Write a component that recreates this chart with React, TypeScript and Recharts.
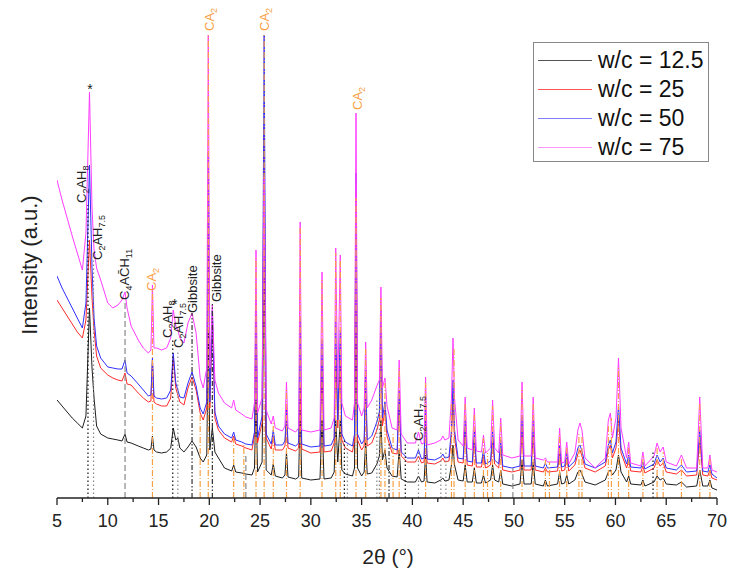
import { LineChart, Line, XAxis, YAxis, ReferenceLine, ReferenceDot } from 'recharts';

// 2θ grid shared by the four patterns
const twoTheta = [
  5, 5.5, 6, 6.5, 7, 7.5, 7.85, 8.2, 8.45, 8.65, 8.9, 9.3, 10,
  10.5, 11, 11.4, 11.7, 11.9, 12.3, 13, 13.5, 14, 14.25, 14.4, 14.55, 14.8, 15.3, 15.8,
  16.2, 16.45, 16.7, 16.9, 17.1, 17.5, 17.9, 18.3, 18.7, 19.1, 19.4, 19.75, 19.9, 20.05, 20.3, 20.55, 20.9,
  21.5, 22.2, 22.4, 22.6, 23.2, 23.6, 24.2, 24.45, 24.6, 24.75, 25.2, 25.4, 25.6, 26.1, 26.3, 26.5,
  27.2, 27.45, 27.6, 27.75, 28.5, 28.8, 28.95, 29.1, 30, 30.9, 31.1, 31.3, 32, 32.3, 32.45, 32.65, 32.9, 33.05, 33.4,
  34.1, 34.3, 34.45, 34.6, 35, 35.25, 35.4, 35.55, 36, 36.5, 36.75, 36.9, 37.05, 37.3, 37.5, 38, 38.5, 38.7, 38.9,
  39.5, 40.3, 40.6, 40.9, 41.15, 41.3, 41.45, 42.2, 42.8, 43, 43.2, 43.6, 43.85, 44, 44.15, 44.5, 45, 45.2, 45.4,
  45.9, 46.1, 46.3, 46.8, 47, 47.2, 47.7, 47.9, 48.1, 48.5, 48.7, 48.9, 49.8, 50.6, 50.8, 51, 51.7, 51.9, 52.1,
  52.9, 53.1, 53.3, 54.3, 54.5, 54.7, 55, 55.2, 55.4, 56, 56.3, 56.5, 56.7, 57,
  58, 59, 59.3, 59.5, 59.7, 60.05, 60.3, 60.55, 61.1, 61.3, 61.5, 62.5, 62.7, 62.9,
  63.8, 64.1, 64.4, 64.7, 65, 66, 66.5, 67, 68, 68.3, 68.6, 69.1, 69.3, 69.5, 70,
];

const wc125 = [
  98, 92, 86, 80, 75, 70, 82, 190, 130, 100, 72, 64, 60,
  59, 58, 57, 64, 56, 55, 52, 50, 48, 49, 62, 48, 46, 45, 46,
  50, 70, 58, 60, 50, 46, 51, 57, 51, 40, 36, 43, 168, 48, 70, 46, 40,
  30, 27, 33, 26, 25, 24, 23, 30, 98, 26, 36, 251, 28, 23, 34, 22,
  20, 23, 46, 21, 19, 21, 88, 20, 18, 19, 78, 19, 20, 26, 78, 36, 78, 28, 24,
  22, 30, 200, 30, 22, 26, 58, 24, 25, 34, 42, 78, 38, 48, 30, 22, 21, 48, 19,
  16, 16, 22, 16, 17, 43, 16, 15, 18, 20, 17, 18, 33, 53, 33, 18, 17, 33, 16,
  16, 30, 15, 15, 23, 15, 18, 33, 18, 16, 28, 14, 12, 14, 38, 14, 14, 36, 14,
  12, 18, 12, 14, 26, 14, 15, 23, 14, 18, 26, 28, 24, 16,
  13, 18, 26, 28, 23, 28, 43, 26, 16, 22, 14, 13, 18, 12,
  16, 22, 18, 20, 14, 13, 16, 11, 12, 28, 12, 12, 18, 10, 8,
];

const wc25 = [
  198, 190, 182, 174, 166, 160, 178, 258, 200, 168, 142, 130, 123,
  120, 118, 117, 125, 114, 113, 105, 100, 96, 97, 138, 96, 94, 92, 92,
  100, 140, 110, 103, 96, 93, 110, 121, 108, 85, 78, 90, 280, 90, 180, 80, 68,
  60, 56, 62, 54, 52, 50, 48, 62, 178, 55, 75, 371, 60, 49, 62, 48,
  48, 52, 78, 50, 47, 50, 111, 49, 45, 46, 128, 46, 47, 55, 148, 70, 138, 58, 50,
  46, 58, 300, 58, 48, 52, 108, 52, 55, 68, 78, 168, 72, 88, 62, 45, 44, 98, 42,
  36, 36, 42, 35, 36, 78, 35, 34, 37, 40, 36, 37, 60, 103, 60, 36, 35, 68, 33,
  32, 58, 31, 31, 43, 30, 33, 58, 34, 30, 50, 28, 26, 28, 68, 28, 28, 63, 28,
  26, 30, 26, 27, 46, 27, 28, 40, 27, 33, 44, 48, 42, 30,
  26, 32, 48, 53, 40, 50, 78, 45, 30, 38, 27, 26, 32, 25,
  30, 38, 32, 35, 26, 24, 28, 22, 23, 58, 23, 22, 28, 20, 18,
];

const wc50 = [
  222, 210, 200, 190, 180, 170, 195, 333, 230, 180, 152, 140, 131,
  130, 129, 129, 138, 125, 122, 114, 108, 102, 103, 140, 102, 100, 99, 100,
  108, 145, 115, 108, 101, 100, 115, 126, 112, 90, 84, 96, 346, 96, 188, 86, 72,
  64, 60, 66, 58, 56, 54, 53, 66, 198, 60, 82, 463, 64, 54, 68, 53,
  53, 57, 88, 55, 52, 55, 181, 54, 51, 52, 158, 52, 53, 60, 176, 78, 168, 64, 56,
  52, 64, 325, 64, 54, 58, 128, 58, 62, 76, 86, 188, 80, 96, 68, 50, 48, 108, 46,
  40, 40, 48, 39, 40, 88, 39, 38, 41, 44, 40, 41, 68, 118, 68, 40, 39, 78, 37,
  36, 68, 35, 35, 48, 34, 37, 68, 38, 34, 58, 32, 30, 32, 83, 32, 32, 78, 32,
  30, 35, 30, 31, 53, 31, 32, 46, 31, 37, 50, 53, 47, 34,
  30, 36, 53, 58, 45, 56, 93, 50, 34, 43, 31, 30, 36, 29,
  34, 43, 36, 40, 30, 28, 33, 26, 27, 68, 27, 26, 33, 24, 20,
];

const wc75 = [
  318, 298, 280, 262, 245, 228, 265, 406, 290, 248, 230, 218, 195,
  190, 193, 198, 206, 190, 172, 158, 150, 145, 148, 213, 150, 150, 148, 150,
  160, 188, 172, 168, 160, 155, 175, 185, 165, 120, 110, 130, 463, 130, 193, 118, 105,
  95, 90, 98, 88, 84, 81, 79, 95, 248, 85, 100, 321, 88, 74, 82, 70,
  67, 72, 116, 70, 66, 70, 276, 68, 66, 68, 226, 68, 70, 80, 250, 110, 243, 95, 82,
  78, 95, 385, 95, 82, 90, 156, 90, 98, 112, 118, 211, 110, 120, 92, 70, 68, 138, 64,
  55, 55, 66, 54, 55, 121, 53, 55, 58, 62, 58, 60, 100, 160, 100, 58, 52, 101, 50,
  48, 90, 47, 46, 63, 45, 50, 98, 50, 45, 80, 43, 40, 42, 116, 42, 42, 101, 40,
  38, 40, 36, 36, 70, 35, 36, 56, 34, 45, 68, 75, 68, 40,
  30, 40, 78, 85, 60, 80, 140, 70, 40, 56, 35, 32, 46, 32,
  42, 55, 46, 51, 36, 32, 43, 30, 30, 101, 30, 30, 43, 28, 26,
];

const seriesNames = ['w/c = 12.5', 'w/c = 25', 'w/c = 50', 'w/c = 75'];
const seriesKeys = ['wc125', 'wc25', 'wc50', 'wc75'];
const seriesColors = ['#1e1e1e', '#ff2a2a', '#3030ff', '#ff3cff'];
const legendColors = ['#555555', '#ff5555', '#8080ff', '#ff99ff'];

const xTicks = [5, 7.5, 10, 12.5, 15, 17.5, 20, 22.5, 25, 27.5, 30, 32.5, 35, 37.5, 40, 42.5, 45, 47.5, 50, 52.5, 55, 57.5, 60, 62.5, 65, 67.5, 70];

// phase reference lines: position and how high they reach
const ca2Pos = [14.4, 19.1, 19.9, 22.4, 23.4, 24.6, 25.4, 26.3, 27.6, 28.95, 31.1, 32.45, 32.9, 34.45, 35.4, 36.9, 37.3, 38.1, 38.7, 41.3, 43.85, 44.1, 45.2, 46.1, 47, 47.4, 47.9, 48.7, 50.8, 51.9, 53.1, 53.5, 54.5, 55.2, 56.4, 56.7, 59.3, 59.6, 60.3, 61.3, 62.7, 64.1, 64.7, 66.5, 68.3, 69.3];
const ca2Top = [208, 85, 463, 60, 55, 240, 463, 75, 110, 270, 220, 245, 238, 300, 150, 200, 115, 65, 130, 115, 95, 150, 95, 85, 60, 45, 92, 75, 110, 95, 38, 36, 65, 52, 65, 62, 72, 80, 130, 52, 42, 50, 46, 40, 95, 40];
const c2ah8Pos = [8.05, 16.4, 33.3, 39.3, 63.7];
const c2ah8Top = [293, 160, 60, 56, 48];
const c2ah75Pos = [8.6, 16.9, 33.6, 36.5, 36.75, 40.6, 42.8, 43.3];
const c2ah75Top = [238, 148, 55, 100, 110, 55, 52, 52];
const c4achPos = [11.7, 23.6, 49.9];
const c4achTop = [198, 45, 30];
const gibbPos = [18.3, 20.3, 37.7];
const gibbTop = [185, 196, 55];

// annotations: [main, subscript] pieces
const labelParts: [string, string][][] = [
  [['C', '2'], ['AH', '8']],
  [['C', '2'], ['AH', '7.5']],
  [['C', '4'], ['AC\u0304H', '11']],
  [['CA', '2']],
  [['C', '2'], ['AH', '8']],
  [['C', '2'], ['AH', '7.5']],
  [['Gibbsite', '']],
  [['CA', '2']],
  [['Gibbsite', '']],
  [['CA', '2']],
  [['CA', '2']],
  [['C', '2'], ['AH', '7.5']],
];
const labelTheta = [7.46, 8.94, 11.6, 14.35, 15.93, 17.0, 18.3, 19.97, 20.66, 25.48, 34.55, 40.65];
const labelAt = [295, 238, 198, 207, 160, 150, 185, 467, 196, 467, 388, 57];
const labelOrange = [false, false, false, true, false, false, false, true, false, true, true, false];
const starTheta = [8.25, 16.6];
const starAt = [409, 194];

const rows = twoTheta.map((t, i) => ({ t, wc125: wc125[i], wc25: wc25[i], wc50: wc50[i], wc75: wc75[i] }));

const font = '"Liberation Sans", Arial, sans-serif';
const orange = '#f9a046';

function XTick({ x, y, payload }: any) {
  const v = payload.value;
  const major = v % 5 === 0;
  return (
    <g>
      <line x1={x} x2={x} y1={y} y2={y + (major ? 7 : 4)} stroke="#222" strokeWidth={1.3} />
      {major && (
        <text x={x} y={y + 29} textAnchor="middle" fontSize={18} fill="#222" fontFamily={font}>
          {v}
        </text>
      )}
    </g>
  );
}

function makeLabel(parts: [string, string][], color: string) {
  return (props: any) => {
    const { cx, cy } = props;
    const pieces: any[] = [];
    parts.forEach(([m, s], i) => {
      const back = i > 0 && parts[i - 1][1] ? -3 : 0;
      pieces.push(<tspan key={'m' + i} dy={back}>{m}</tspan>);
      if (s) pieces.push(<tspan key={'s' + i} dy={3} fontSize={9}>{s}</tspan>);
    });
    return (
      <text transform={`translate(${cx + 4.5},${cy}) rotate(-90)`} x={0} y={0} fontSize={13} fill={color} fontFamily={font}>
        {pieces}
      </text>
    );
  };
}

function Star(props: any) {
  return (
    <text x={props.cx} y={props.cy + 5} textAnchor="middle" fontSize={14} fill="#222" fontFamily={font}>
      *
    </text>
  );
}

function seg(pos: number[], top: number[], stroke: string, dash: string, key: string) {
  return pos.map((p, i) => (
    <ReferenceLine
      key={key + i}
      segment={[{ x: p, y: 0 }, { x: p, y: top[i] }]}
      stroke={stroke}
      strokeDasharray={dash}
      strokeWidth={1.2}
    />
  ));
}

export default function App() {
  return (
    <div style={{ position: 'absolute', left: 0, top: 0, width: 730, height: 580, background: '#fff', fontFamily: font }}>
      <LineChart width={730} height={580} data={rows} margin={{ top: 35, right: 13, bottom: 52, left: 57 }}>
        <XAxis
          type="number"
          dataKey="t"
          domain={[5, 70]}
          ticks={xTicks}
          interval={0}
          tick={<XTick />}
          tickLine={false}
          tickSize={0}
          tickMargin={0}
          height={30}
          axisLine={{ stroke: '#222', strokeWidth: 1.5 }}
          allowDataOverflow
        />
        <YAxis type="number" domain={[0, 463]} width={0} tick={false} tickLine={false} axisLine={{ stroke: '#333', strokeWidth: 1.5 }} allowDataOverflow />
        {seriesKeys.map((k, i) => (
          <Line key={k} dataKey={k} name={seriesNames[i]} stroke={seriesColors[i]} strokeWidth={1} dot={false} isAnimationActive={false} />
        ))}
        {seg(ca2Pos, ca2Top, orange, '6 2 1 2', 'ca')}
        {seg(c2ah8Pos, c2ah8Top, '#111', '1.5 2.5', 'c8')}
        {seg(c2ah75Pos, c2ah75Top, '#888', '1.5 2.5', 'c75')}
        {seg(c4achPos, c4achTop, '#888', '6 3', 'cc')}
        {seg(gibbPos, gibbTop, '#333', '5 2 1.5 2 1.5 2', 'gb')}
        {labelParts.map((p, i) => (
          <ReferenceDot
            key={'lab' + i}
            x={labelTheta[i]}
            y={labelAt[i]}
            r={0}
            ifOverflow="visible"
            shape={makeLabel(p, labelOrange[i] ? orange : '#222')}
          />
        ))}
        {starTheta.map((t, i) => (
          <ReferenceDot key={'star' + i} x={t} y={starAt[i]} r={0} ifOverflow="visible" shape={Star} />
        ))}
      </LineChart>

      <div
        style={{
          position: 'absolute',
          left: 30,
          top: 265,
          transform: 'translate(-50%, -50%) rotate(-90deg)',
          fontSize: 22,
          color: '#222',
          whiteSpace: 'nowrap',
        }}
      >
        Intensity (a.u.)
      </div>
      <div style={{ position: 'absolute', left: 388, top: 557, transform: 'translate(-50%, -50%)', fontSize: 21, color: '#222', whiteSpace: 'nowrap' }}>
        2θ (°)
      </div>

      <div
        style={{
          position: 'absolute',
          left: 533,
          top: 42,
          width: 176,
          height: 120,
          border: '1px solid #888',
          background: '#fff',
          boxSizing: 'border-box',
          paddingTop: 3,
        }}
      >
        {seriesNames.map((n, i) => (
          <div key={n} style={{ display: 'flex', alignItems: 'center', height: 29 }}>
            <div style={{ width: 54, height: 0, borderTop: `1.5px solid ${legendColors[i]}`, marginLeft: 4, marginRight: 6 }} />
            <span style={{ fontSize: 23, color: '#111', lineHeight: '29px' }}>{n}</span>
          </div>
        ))}
      </div>
    </div>
  );
}
